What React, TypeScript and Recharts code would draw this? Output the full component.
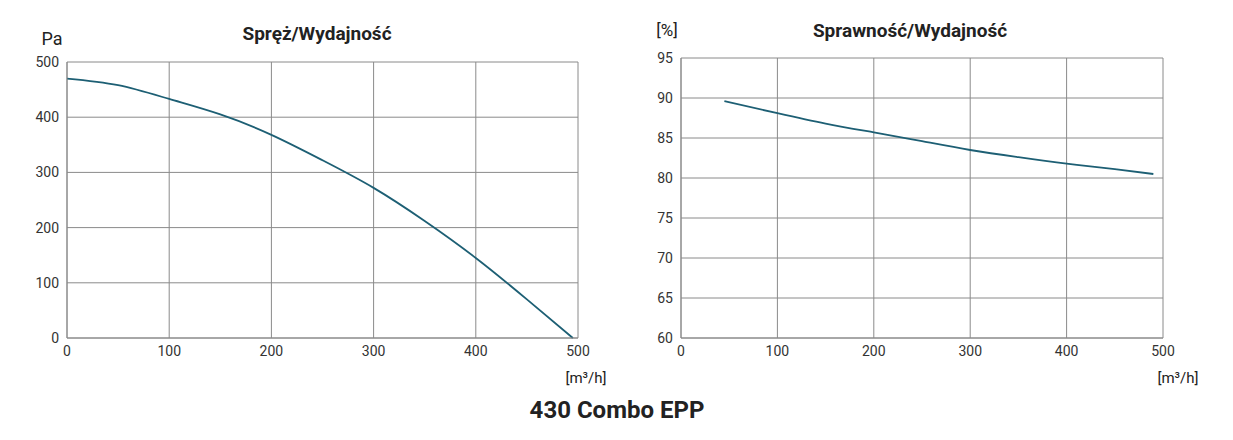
import { LineChart, Line, XAxis, YAxis, CartesianGrid } from "recharts";

const flowA = [0, 50, 100, 150, 200, 250, 300, 350, 400, 450, 495];
const pressure = [470, 458, 433, 405, 368, 322, 272, 212, 145, 70, 0];
const flowB = [45, 100, 150, 200, 250, 300, 350, 400, 450, 490];
const efficiency = [89.6, 88.1, 86.8, 85.7, 84.6, 83.5, 82.6, 81.8, 81.1, 80.5];
const xTicks = [0, 100, 200, 300, 400, 500];
const paTicks = [0, 100, 200, 300, 400, 500];
const pctTicks = [60, 65, 70, 75, 80, 85, 90, 95];

const LINE = "#1d5f74";
const GRID = "#8a8a8a";
const tick = { fill: "#333", fontSize: 14, fontFamily: "Roboto" };

const dataA = flowA.map((x, i) => ({ x, y: pressure[i] }));
const dataB = flowB.map((x, i) => ({ x, y: efficiency[i] }));

const txt = (left: number, top: number, s: string, size: number, bold = false): any => ({
  position: "absolute", left, top, fontSize: size, fontWeight: bold ? 700 : 400,
  fontFamily: "Roboto", color: "#222", whiteSpace: "nowrap", transform: "translate(-50%,-50%)",
  children: s,
});

function T(p: any) {
  const { children, ...style } = p;
  return <div style={style}>{children}</div>;
}

export default function App() {
  return (
    <div style={{ position: "absolute", left: 0, top: 0, width: 1233, height: 440, background: "#fff" }}>
      <div style={{ position: "absolute", left: 0, top: 0 }}>
        <LineChart width={620} height={380} data={dataA} margin={{ top: 62, right: 42, left: 12, bottom: 12 }}>
          <CartesianGrid stroke={GRID} />
          <XAxis dataKey="x" type="number" domain={[0, 500]} ticks={xTicks} tick={tick} tickLine={false} axisLine={{ stroke: GRID }} height={30} />
          <YAxis domain={[0, 500]} ticks={paTicks} tick={tick} tickLine={false} axisLine={{ stroke: GRID }} width={55} />
          <Line dataKey="y" type="natural" stroke={LINE} strokeWidth={1.8} dot={false} isAnimationActive={false} />
        </LineChart>
      </div>
      <div style={{ position: "absolute", left: 620, top: 0 }}>
        <LineChart width={613} height={380} data={dataB} margin={{ top: 58, right: 70, left: 11, bottom: 12 }}>
          <CartesianGrid stroke={GRID} />
          <XAxis dataKey="x" type="number" domain={[0, 500]} ticks={xTicks} tick={tick} tickLine={false} axisLine={{ stroke: GRID }} height={30} />
          <YAxis domain={[60, 95]} ticks={pctTicks} tick={tick} tickLine={false} axisLine={{ stroke: GRID }} width={50} />
          <Line dataKey="y" type="natural" stroke={LINE} strokeWidth={1.8} dot={false} isAnimationActive={false} />
        </LineChart>
      </div>
      <T {...txt(52, 38, "Pa", 18)} />
      <T {...txt(317, 33, "Spręż/Wydajność", 19, true)} />
      <T {...txt(586, 378, "[m³/h]", 15)} />
      <T {...txt(667, 30, "[%]", 17)} />
      <T {...txt(910, 30, "Sprawność/Wydajność", 19, true)} />
      <T {...txt(1178, 378, "[m³/h]", 15)} />
      <T {...txt(617, 410, "430 Combo EPP", 24, true)} />
    </div>
  );
}
